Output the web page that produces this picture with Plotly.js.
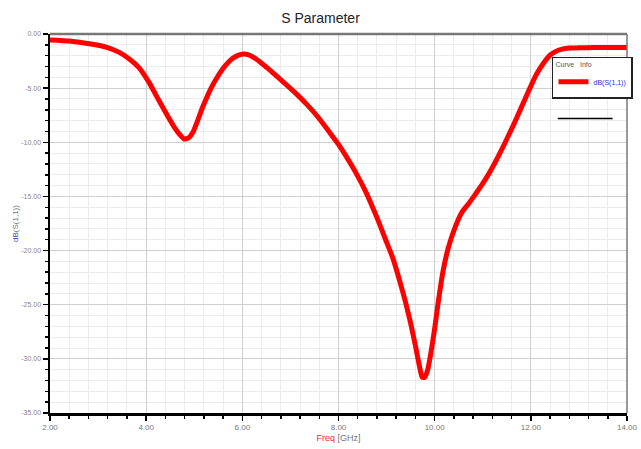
<!DOCTYPE html>
<html>
<head>
<meta charset="utf-8">
<script src="https://cdn.plot.ly/plotly-3.0.1.min.js"></script>
<style>html,body{margin:0;padding:0;background:#fff;}#chart{width:641px;height:449px;}</style>
</head>
<body>
<div id="chart"></div>
<script>
// Frequency (GHz) and dB(S(1,1))
const freq = [2.00, 2.40, 2.82, 3.20, 3.44, 3.65, 3.85, 4.05, 4.26, 4.45, 4.57, 4.70, 4.79, 4.88, 4.98, 5.18, 5.35, 5.49, 5.65, 5.80, 5.92, 6.02, 6.12, 6.25, 6.40, 6.55, 6.72, 6.93, 7.14, 7.34, 7.55, 7.70, 7.85, 8.00, 8.16, 8.36, 8.57, 8.70, 8.84, 8.98, 9.13, 9.26, 9.39, 9.50, 9.60, 9.68, 9.74, 9.79, 9.85, 9.92, 10.00, 10.07, 10.17, 10.28, 10.42, 10.56, 10.70, 10.83, 10.97, 11.10, 11.24, 11.38, 11.50, 11.65, 11.80, 11.96, 12.12, 12.27, 12.40, 12.50, 12.65, 12.80, 13.00, 13.30, 13.60, 14.00];
const s11 = [-0.55, -0.65, -0.90, -1.25, -1.70, -2.30, -3.10, -4.40, -6.10, -7.60, -8.50, -9.30, -9.70, -9.60, -9.00, -6.70, -5.00, -3.90, -2.90, -2.25, -1.95, -1.85, -1.90, -2.20, -2.70, -3.25, -3.92, -4.75, -5.60, -6.50, -7.55, -8.40, -9.30, -10.20, -11.30, -12.80, -14.60, -15.90, -17.40, -19.00, -20.70, -22.60, -24.70, -26.70, -28.80, -30.60, -31.70, -31.70, -31.10, -29.50, -27.20, -24.90, -22.00, -19.80, -17.90, -16.50, -15.70, -14.90, -14.00, -13.10, -12.00, -10.80, -9.70, -8.30, -6.80, -5.20, -3.70, -2.65, -1.95, -1.65, -1.40, -1.30, -1.28, -1.25, -1.25, -1.25];

const xTickVals = [2, 4, 6, 8, 10, 12, 14];
const xTickText = ['2.00', '4.00', '6.00', '8.00', '10.00', '12.00', '14.00'];
const yTickVals = [0, -5, -10, -15, -20, -25, -30, -35];
const yTickText = ['0.00', '-5.00', '-10.00', '-15.00', '-20.00', '-25.00', '-30.00', '-35.00'];

const FONT = '"Liberation Sans Narrow", "Liberation Sans", Arial, sans-serif';

const trace = {
  x: freq, y: s11, type: 'scatter', mode: 'lines',
  name: 'dB(S(1,1))',
  line: {color: '#ff0000', width: 5, shape: 'spline', smoothing: 0.5}
};

const layout = {
  width: 641, height: 449,
  margin: {l: 50, r: 8, t: 34, b: 36},
  paper_bgcolor: '#ffffff', plot_bgcolor: '#ffffff',
  font: {family: FONT, color: '#555'},
  title: {text: 'S Parameter', x: 0.5, xref: 'container', y: 0.96, yref: 'container', yanchor: 'middle',
          font: {family: FONT, size: 14, color: '#222'}},
  showlegend: true,
  legend: {x: 0.87, y: 0.94, xanchor: 'left', yanchor: 'top', bgcolor: '#ffffff',
           bordercolor: '#222', borderwidth: 1.5,
           title: {text: 'Curve   Info', font: {size: 7, color: '#555', family: FONT}, side: 'top'},
           font: {size: 7, color: '#2233cc', family: FONT}, itemwidth: 30, tracegroupgap: 0},
  xaxis: {
    range: [2, 14], tickvals: xTickVals, ticktext: xTickText,
    showgrid: true, gridcolor: '#cfcfcf', gridwidth: 1.2,
    minor: {dtick: 0.4, tick0: 2, showgrid: true, gridcolor: '#ececec', gridwidth: 1, ticks: 'outside', ticklen: 3, tickcolor: '#000'},
    ticks: 'outside', ticklen: 5, tickcolor: '#000', tickwidth: 1.5,
    showline: true, linecolor: '#000', linewidth: 2.5,
    zeroline: false,
    tickfont: {size: 8, color: '#777', family: FONT},
    title: {text: '<span style="color:#e03030">Freq</span> [GHz]', standoff: 4, font: {size: 9, color: '#777', family: FONT}}
  },
  yaxis: {
    range: [-35, 0], tickvals: yTickVals, ticktext: yTickText,
    showgrid: true, gridcolor: '#cfcfcf', gridwidth: 1.2,
    minor: {dtick: 1, showgrid: true, gridcolor: '#ececec', gridwidth: 1, ticks: 'outside', ticklen: 3, tickcolor: '#000'},
    ticks: 'outside', ticklen: 5, tickcolor: '#000', tickwidth: 1.5,
    showline: true, linecolor: '#000', linewidth: 2.5,
    zeroline: false,
    tickfont: {size: 7, color: '#888', family: FONT},
    title: {text: '<span style="color:#3344cc">dB</span>(S(1,1))', standoff: 2, font: {size: 8, color: '#777', family: FONT}}
  },
  shapes: [
    {type: 'line', xref: 'paper', yref: 'paper', x0: 0, x1: 1, y0: 1, y1: 1, line: {color: '#777', width: 2.5}},
    {type: 'line', xref: 'paper', yref: 'paper', x0: 1, x1: 1, y0: 0, y1: 1, line: {color: '#777', width: 1.5}},
    {type: 'line', xref: 'paper', yref: 'paper', x0: 0.88, x1: 0.975, y0: 0.777, y1: 0.777, line: {color: '#000', width: 1.5}}
  ],
  annotations: [
    {text: 'HFSSDesign1', xref: 'container', yref: 'container', x: 0.975, y: 0.96, xanchor: 'right', yanchor: 'middle',
     showarrow: false, font: {family: FONT, size: 11, color: '#555'}}
  ]
};

Plotly.newPlot('chart', [trace], layout, {displayModeBar: false, staticPlot: true});
</script>
</body>
</html>
